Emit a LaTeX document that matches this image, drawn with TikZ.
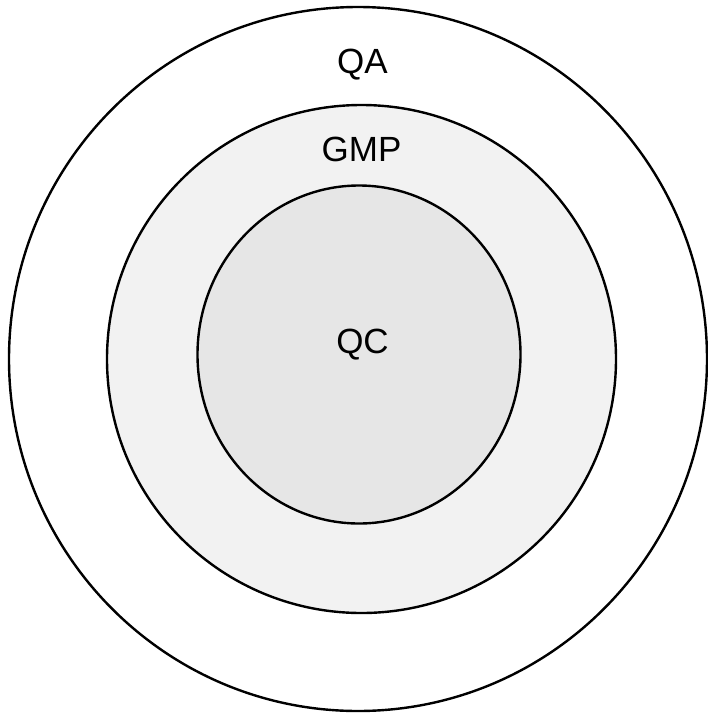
\documentclass[tikz,border=0pt]{standalone}
\usepackage{fontspec}
\setmainfont{Liberation Sans}
\begin{document}
\begin{tikzpicture}[x=1pt,y=-1pt,
  ring/.style={draw=black,line width=2.4pt},
  lbl/.style={anchor=base,inner sep=0pt,font=\fontsize{35}{40}\selectfont}]
\useasboundingbox (0,0) rectangle (708,713);
\clip (0,0) rectangle (708,713);
% nested regions, outermost first
\draw[ring,fill=white] (358,359) ellipse [x radius=349,y radius=352];
\draw[ring,fill={rgb,255:red,242;green,242;blue,242}] (361.5,359) ellipse [x radius=254.5,y radius=254];
\draw[ring,fill={rgb,255:red,230;green,230;blue,230}] (359,354.5) ellipse [x radius=161.5,y radius=169];
% region labels
\node[lbl] (qa) at (362.5,73) {QA};
\node[lbl] (gmp) at (361.5,161) {GMP};
\node[lbl] (qc) at (362.5,353) {QC};
\end{tikzpicture}
\end{document}
